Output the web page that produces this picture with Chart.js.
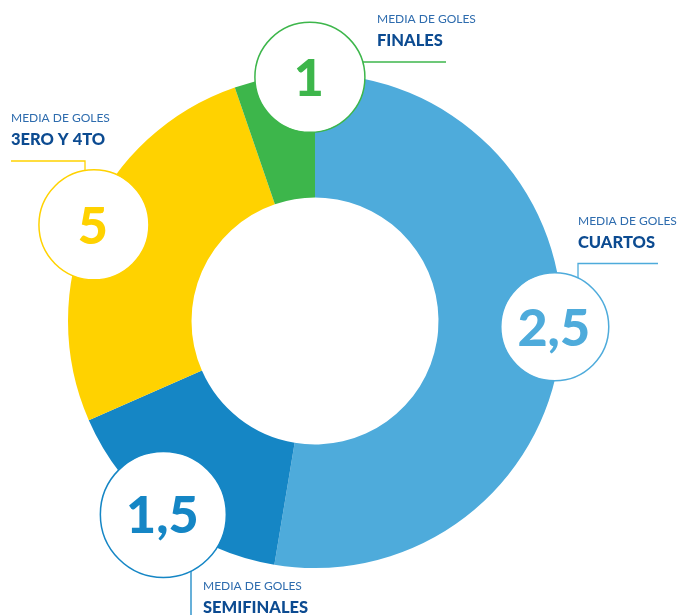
<!DOCTYPE html>
<html>
<head>
    <meta charset="utf-8">
    <title>Media de goles por fase</title>
    <script src="https://cdn.jsdelivr.net/npm/chart.js"></script>
    <style>
        html, body {
            margin: 0;
            padding: 0;
            background: #ffffff;
        }
        #goles-chart {
            display: block;
        }
    </style>
</head>
<body>
<canvas id="goles-chart" width="684" height="615"></canvas>
<script>
    // Fases del torneo, en el orden en que se dibujan (sentido horario desde arriba)
    const fases = ['CUARTOS', 'SEMIFINALES', '3ERO Y 4TO', 'FINALES'];
    // Goles totales por fase (tamaño de cada porción)
    const golesTotales = [10, 3, 5, 1];
    // Media de goles por partido en cada fase
    const mediaGoles = [2.5, 1.5, 5, 1];
    const colores = ['#4eabdb', '#1586c5', '#ffd200', '#3db64b'];

    const textoMedia = '#2e6cae';
    const textoFase = '#0c4b91';

    // Posición de cada círculo y de su etiqueta
    // ang: grados en sentido horario desde arriba, dist: fracción del radio exterior
    const etiquetas = [
        { ang: 91.4, dist: 0.971, r: 54, tx: 578, ty: 225, linea: 'arriba-derecha', lx: 578, ly: 263.5, lx2: 658 },
        { ang: 218.1, dist: 0.995, r: 63, tx: 203, ty: 590, linea: 'abajo', lx: 191, ly: 615 },
        { ang: 293.5, dist: 0.976, r: 55, tx: 11, ty: 122, linea: 'arriba-izquierda', lx: 85, ly: 161, lx2: 11 },
        { ang: -1.2, dist: 0.987, r: 55, tx: 377, ty: 23, linea: 'derecha', lx: 446, ly: 62 }
    ];

    function formatoMedia(v) {
        return String(v).replace('.', ',');
    }

    // Dibuja los círculos con la media de goles y sus rótulos
    const circulosMedia = {
        id: 'circulosMedia',
        afterDatasetsDraw(chart) {
            const ctx = chart.ctx;
            const arcs = chart.getDatasetMeta(0).data;
            arcs.forEach((arc, i) => {
                const e = etiquetas[i];
                const color = colores[i];
                const a = e.ang * Math.PI / 180;
                const d = arc.outerRadius * e.dist;
                const cx = arc.x + d * Math.sin(a);
                const cy = arc.y - d * Math.cos(a);

                ctx.save();
                ctx.strokeStyle = color;
                ctx.lineWidth = 1.3;

                // línea guía
                ctx.beginPath();
                if (e.linea === 'derecha') {
                    const dy = e.ly - cy;
                    const x0 = cx + Math.sqrt(e.r * e.r - dy * dy);
                    ctx.moveTo(x0, e.ly);
                    ctx.lineTo(e.lx, e.ly);
                } else if (e.linea === 'abajo') {
                    const dx = e.lx - cx;
                    const y0 = cy + Math.sqrt(e.r * e.r - dx * dx);
                    ctx.moveTo(e.lx, y0);
                    ctx.lineTo(e.lx, e.ly);
                } else {
                    const dx = e.lx - cx;
                    const y0 = cy - Math.sqrt(e.r * e.r - dx * dx);
                    ctx.moveTo(e.lx, y0);
                    ctx.lineTo(e.lx, e.ly);
                    ctx.lineTo(e.lx2, e.ly);
                }
                ctx.stroke();

                // círculo blanco con borde
                ctx.beginPath();
                ctx.arc(cx, cy, e.r, 0, Math.PI * 2);
                ctx.fillStyle = '#ffffff';
                ctx.fill();
                ctx.lineWidth = 1.5;
                ctx.stroke();

                // valor de la media
                ctx.fillStyle = color;
                ctx.font = '900 52px Lato';
                ctx.textAlign = 'center';
                ctx.textBaseline = 'alphabetic';
                ctx.fillText(formatoMedia(mediaGoles[i]), cx - 1, cy + 19);

                // rótulo
                ctx.textAlign = 'left';
                ctx.fillStyle = textoMedia;
                ctx.font = '400 12px Lato';
                ctx.fillText('MEDIA DE GOLES', e.tx, e.ty);
                ctx.fillStyle = textoFase;
                ctx.font = '900 16.5px Lato';
                ctx.fillText(fases[i], e.tx, e.ty + 22.5);
                ctx.restore();
            });
        }
    };

    new Chart(document.getElementById('goles-chart'), {
        type: 'doughnut',
        data: {
            labels: fases,
            datasets: [{
                data: golesTotales,
                backgroundColor: colores,
                borderWidth: 0,
                hoverOffset: 0
            }]
        },
        options: {
            responsive: false,
            animation: false,
            cutout: '50%',
            layout: {
                padding: { left: 68, right: 122, top: 74, bottom: 47 }
            },
            plugins: {
                legend: { display: false },
                tooltip: { enabled: false }
            }
        },
        plugins: [circulosMedia]
    });
</script>
</body>
</html>
